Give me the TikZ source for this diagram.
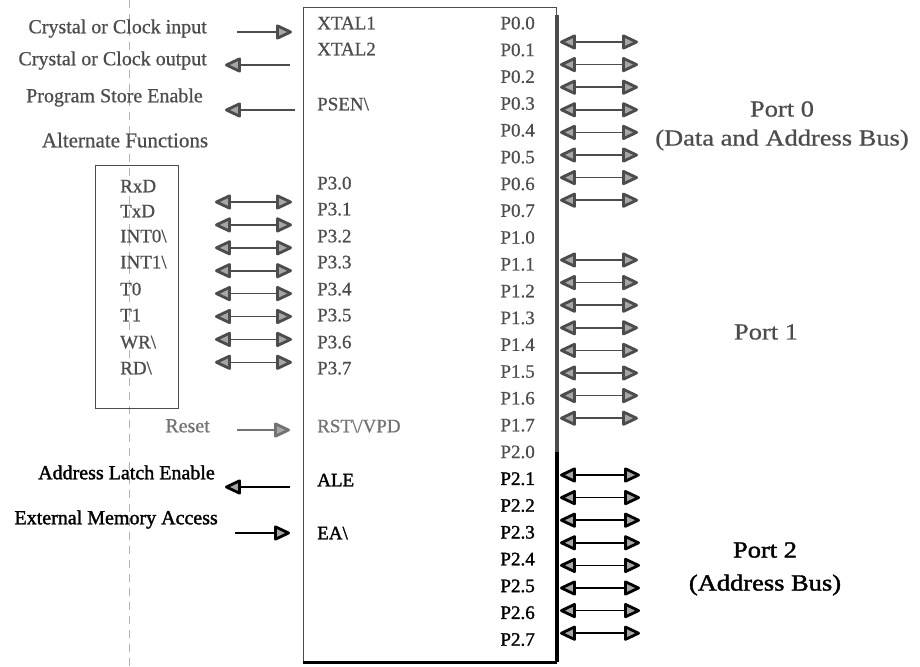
\documentclass[tikz,border=0pt]{standalone}
\usepackage{fontspec}
\setmainfont{Liberation Serif}[FakeBold=0.7]
\newfontfamily\heavy{Liberation Serif}[FakeBold=1.6]
\usepackage{graphicx}
\usetikzlibrary{arrows.meta}
\definecolor{ink}{gray}{0.30}
\definecolor{inkl}{gray}{0.45}
\begin{document}
\begin{tikzpicture}[x=1pt,y=-1pt,
  pinl/.style={anchor=mid west, inner sep=0pt, font=\fontsize{19}{21}\selectfont, text=ink},
  pinr/.style={anchor=mid east, inner sep=0pt, font=\fontsize{19}{21}\selectfont, text=ink},
  lbl/.style={anchor=mid east, inner sep=0pt, font=\fontsize{20}{22}\selectfont, text=ink},
  portlbl/.style={inner sep=0pt, font=\fontsize{23}{25}\selectfont, text=ink},
  dark/.style={text=black, font=\fontsize{19}{21}\selectfont\heavy},
  tipA/.tip={Triangle[length=18pt,width=16pt,line width=2.8pt 0,fill=black!35,round]},
  sarr/.style={draw=ink, line width=1.6pt, -tipA},
  darr/.style={draw=ink, line width=1.6pt, tipA-tipA},
]
\useasboundingbox (0,0) rectangle (920,666);
% faint fold line
\draw[black!30, dash pattern=on 8pt off 6pt, line width=0.8pt] (129,0) -- (129,666);

% chip body
\node[draw=ink, line width=1.3pt, minimum width=253pt, minimum height=654pt, inner sep=0pt, anchor=north west] (chip) at (303,7) {};
\draw[line width=4pt, black!70] ([yshift=-8pt]chip.north east) -- ([yshift=210pt]chip.south east);
\draw[line width=4pt, black] ([yshift=210pt]chip.south east) -- (chip.south east);
\draw[line width=2.5pt, black] (chip.south west) -- (chip.south east);

% left pin labels
\node[pinl] (xtal1) at (317,27) {XTAL1};
\node[pinl] (xtal2) at (317,53) {XTAL2};
\node[pinl] (psen) at (317,108) {PSEN\textbackslash};
\foreach \i/\yy in {0/187,1/213,2/240,3/266,4/293,5/319,6/346,7/372}
  \node[pinl] (p3\i) at (317,\yy) {P3.\i};
\node[pinl, text=inkl] (rstpin) at (317,430) {RST\textbackslash/VPD};
\node[pinl, dark] (alepin) at (317,484) {ALE};
\node[pinl, dark] (eapin) at (317,537) {EA\textbackslash};

% right pin labels
\foreach \j in {0,...,23} {
  \pgfmathtruncatemacro\port{int(\j/8)}
  \pgfmathtruncatemacro\bit{mod(\j,8)}
  \pgfmathsetmacro\yy{27+26.8*\j}
  \ifnum\j>16
    \node[pinr, dark] (p\port\bit) at (535,\yy) {P\port.\bit};
  \else
    \node[pinr] (p\port\bit) at (535,\yy) {P\port.\bit};
  \fi
}

% port arrows
\foreach \i in {0,...,7} {
  \pgfmathsetmacro\ya{42+22.6*\i}
  \pgfmathsetmacro\yb{260+22.6*\i}
  \pgfmathsetmacro\yc{475+22.6*\i}
  \coordinate (a0l\i) at (560,\ya); \coordinate (a0r\i) at (638,\ya);
  \coordinate (a1l\i) at (560,\yb); \coordinate (a1r\i) at (638,\yb);
  \coordinate (a2l\i) at (560,\yc); \coordinate (a2r\i) at (640,\yc);
  \draw[darr] (a0l\i) -- (a0r\i);
  \draw[darr] (a1l\i) -- (a1r\i);
  \draw[darr, draw=black] (a2l\i) -- (a2r\i);
}

% alternate functions box
\node[lbl, anchor=mid, font=\fontsize{21}{23}\selectfont] (altf) at (125,145) {Alternate Functions};
\node[draw=ink, line width=1.1pt, minimum width=83pt, minimum height=243pt, inner sep=0pt, anchor=north west] (altbox) at (95,165) {};
\foreach \n/\t/\yy in {0/RxD/190,1/TxD/215,2/INT0\textbackslash/240,3/INT1\textbackslash/266,4/T0/293,5/T1/319,6/WR\textbackslash/346,7/RD\textbackslash/372}
  \node[pinl] (alt\n) at (120,\yy) {\t};
\foreach \i in {0,...,7} {
  \pgfmathsetmacro\ya{202+22.9*\i}
  \coordinate (b3l\i) at (215,\ya); \coordinate (b3r\i) at (292,\ya);
  \draw[darr] (b3l\i) -- (b3r\i);
}

% left signal labels and arrows
\node[lbl] (clkin) at (207,31) {Crystal or Clock input};
\coordinate (cia) at (237,32); \coordinate (cib) at (292,32);
\draw[sarr] (cia) -- (cib);
\node[lbl] (clkout) at (207,63) {Crystal or Clock output};
\coordinate (coa) at (290,65); \coordinate (cob) at (225,65);
\draw[sarr] (coa) -- (cob);
\node[lbl] (pse) at (203,100) {Program Store Enable};
\coordinate (psa) at (295,110); \coordinate (psb) at (225,110);
\draw[sarr] (psa) -- (psb);
\node[lbl, text=inkl] (rst) at (210,430) {Reset};
\coordinate (rsa) at (237,430); \coordinate (rsb) at (290,430);
\draw[sarr, draw=inkl] (rsa) -- (rsb);
\node[lbl, text=black, font=\fontsize{20}{22}\selectfont\heavy] (alel) at (215,477) {Address Latch Enable};
\coordinate (ala) at (290,487); \coordinate (alb) at (225,487);
\draw[sarr, draw=black] (ala) -- (alb);
\node[lbl, text=black, font=\fontsize{20}{22}\selectfont\heavy] (eal) at (218,522) {External Memory Access};
\coordinate (eaa) at (235,533); \coordinate (eab) at (290,533);
\draw[sarr, draw=black] (eaa) -- (eab);

% port labels
\node[portlbl] (port0) at (782,109) {\scalebox{1.15}[1]{Port 0}};
\node[portlbl] (port0b) at (782,140) {\scalebox{1.15}[1]{(Data and Address Bus)}};
\node[portlbl] (port1) at (766,332) {\scalebox{1.15}[1]{Port 1}};
\node[portlbl, text=black, font=\fontsize{23}{25}\selectfont\heavy] (port2) at (765,550) {\scalebox{1.15}[1]{Port 2}};
\node[portlbl, text=black, font=\fontsize{23}{25}\selectfont\heavy] (port2b) at (765,585) {\scalebox{1.15}[1]{(Address Bus)}};
\end{tikzpicture}
\end{document}
